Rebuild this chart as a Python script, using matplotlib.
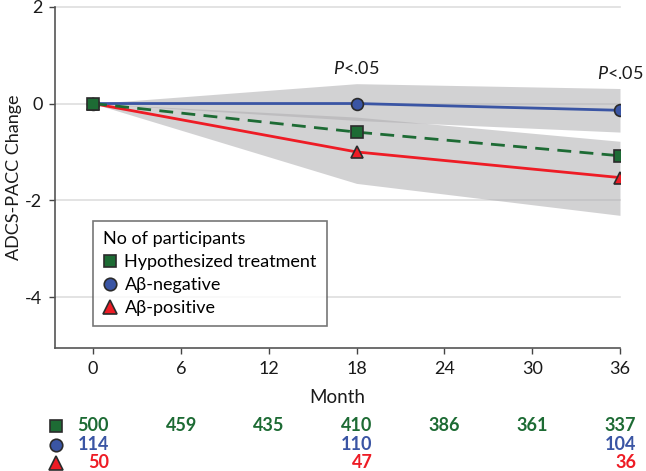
import numpy as np
import matplotlib
matplotlib.use('Agg')
import matplotlib.pyplot as plt
from matplotlib.lines import Line2D
from matplotlib.transforms import blended_transform_factory

plt.rcParams['font.family'] = ['Lato', 'DejaVu Sans']
plt.rcParams['mathtext.fontset'] = 'custom'
plt.rcParams['mathtext.it'] = 'Lato:italic'
plt.rcParams['mathtext.rm'] = 'Lato'

# data
months = [0, 18, 36]
treat = [0, -0.59, -1.08]
neg = [0, 0.0, -0.14]
pos = [0, -1.0, -1.53]
neg_lo = [0, -0.35, -0.59]
neg_hi = [0, 0.41, 0.31]
pos_lo = [0, -1.65, -2.31]
pos_hi = [0, -0.28, -0.78]

table_months = [0, 6, 12, 18, 24, 30, 36]
n_treat = ['500', '459', '435', '410', '386', '361', '337']
neg_months = [0, 18, 36]
n_neg = ['114', '110', '104']
pos_months = [0, 18, 36]
n_pos = ['50', '47', '36']

green = '#1d6b34'
blue = '#3a55a4'
red = '#ee1c25'
band = '#aeadb0'
edge = '#2b2b2b'

fig = plt.figure(figsize=(6.46, 4.71), dpi=100)
ax = fig.add_axes([55 / 646, 1 - 348 / 471, 565 / 646, 341.3 / 471])

ax.fill_between(months, neg_lo, neg_hi, color=band, alpha=0.55, lw=0, zorder=1)
ax.fill_between(months, pos_lo, pos_hi, color=band, alpha=0.55, lw=0, zorder=1)

for yv in [2, 0, -2, -4]:
    ax.plot([-2.6, 36], [yv, yv], color='#dedede', lw=1.2, zorder=0, clip_on=False)

ax.plot(months, pos, color=red, lw=2, marker='^', ms=9, mfc=red, mec=edge, mew=1.2, zorder=3)
ax.plot(months, neg, color=blue, lw=2, marker='o', ms=8.5, mfc=blue, mec=edge, mew=1.2, zorder=4)
ax.plot(months, treat, color=green, lw=2, ls=(0, (5, 3)), marker='s', ms=8.5, mfc=green,
        mec=edge, mew=1.2, zorder=5)

ax.set_xlim(-2.6, 36)
ax.set_ylim(-5.05, 2.0)
ax.set_xticks(table_months)
ax.set_yticks([2, 0, -2, -4])
ax.set_yticklabels(['2', '0', '-2', '-4'])
ax.tick_params(labelsize=13, color='#444444', length=4, width=1, pad=5, labelcolor='#1a1a1a')
for s in ['top', 'right']:
    ax.spines[s].set_visible(False)
for s in ['left', 'bottom']:
    ax.spines[s].set_color('#555555')
    ax.spines[s].set_linewidth(1.2)
ax.set_xlabel('Month', fontsize=13.5, color='#1a1a1a', labelpad=9)
ax.set_ylabel('ADCS-PACC Change', fontsize=13, color='#1a1a1a')
ax.yaxis.set_label_coords(-0.058, 0.5)

# P-value annotations
for xm, yv in [(18, 0.73), (36, 0.62)]:
    ax.text(xm, yv, r'$\it{P}$' + '<.05', ha='center', va='center', fontsize=13,
            color='#1a1a1a', clip_on=False)

handles = [
    Line2D([], [], ls='none', marker='s', ms=9, mfc=green, mec=edge, mew=1.2),
    Line2D([], [], ls='none', marker='o', ms=9, mfc=blue, mec=edge, mew=1.2),
    Line2D([], [], ls='none', marker='^', ms=10, mfc=red, mec=edge, mew=1.2),
]
leg = ax.legend(handles, ['Hypothesized treatment', 'A\u03b2-negative', 'A\u03b2-positive'],
                title='No of participants', loc='upper left', bbox_to_anchor=(0.067, 0.373),
                fontsize=13, title_fontsize=13, frameon=True, fancybox=False,
                handlelength=0.8, handletextpad=0.4, labelspacing=0.4,
                borderpad=0.55, borderaxespad=0)
leg._legend_box.align = 'left'
leg.get_frame().set_edgecolor('#555555')
leg.get_frame().set_linewidth(1.2)

# participants table under the axis
tr = blended_transform_factory(ax.transData, fig.transFigure)
tra = blended_transform_factory(ax.transAxes, fig.transFigure)
rows = [
    (table_months, n_treat, green, 's', 9, 1 - 425.7 / 471),
    (neg_months, n_neg, blue, 'o', 9, 1 - 444.5 / 471),
    (pos_months, n_pos, red, '^', 10, 1 - 463 / 471),
]
for xs, labels, col, mk, ms, yf in rows:
    ax.plot([0.001], [yf], transform=tra, marker=mk, ms=ms, mfc=col, mec=edge, mew=1.2,
            ls='none', clip_on=False)
    for xm, lab in zip(xs, labels):
        ax.text(xm + 1.1, yf, lab, transform=tr, ha='right', va='center', fontsize=13,
                fontweight='bold', color=col)

fig.savefig('out.png', dpi=100)
